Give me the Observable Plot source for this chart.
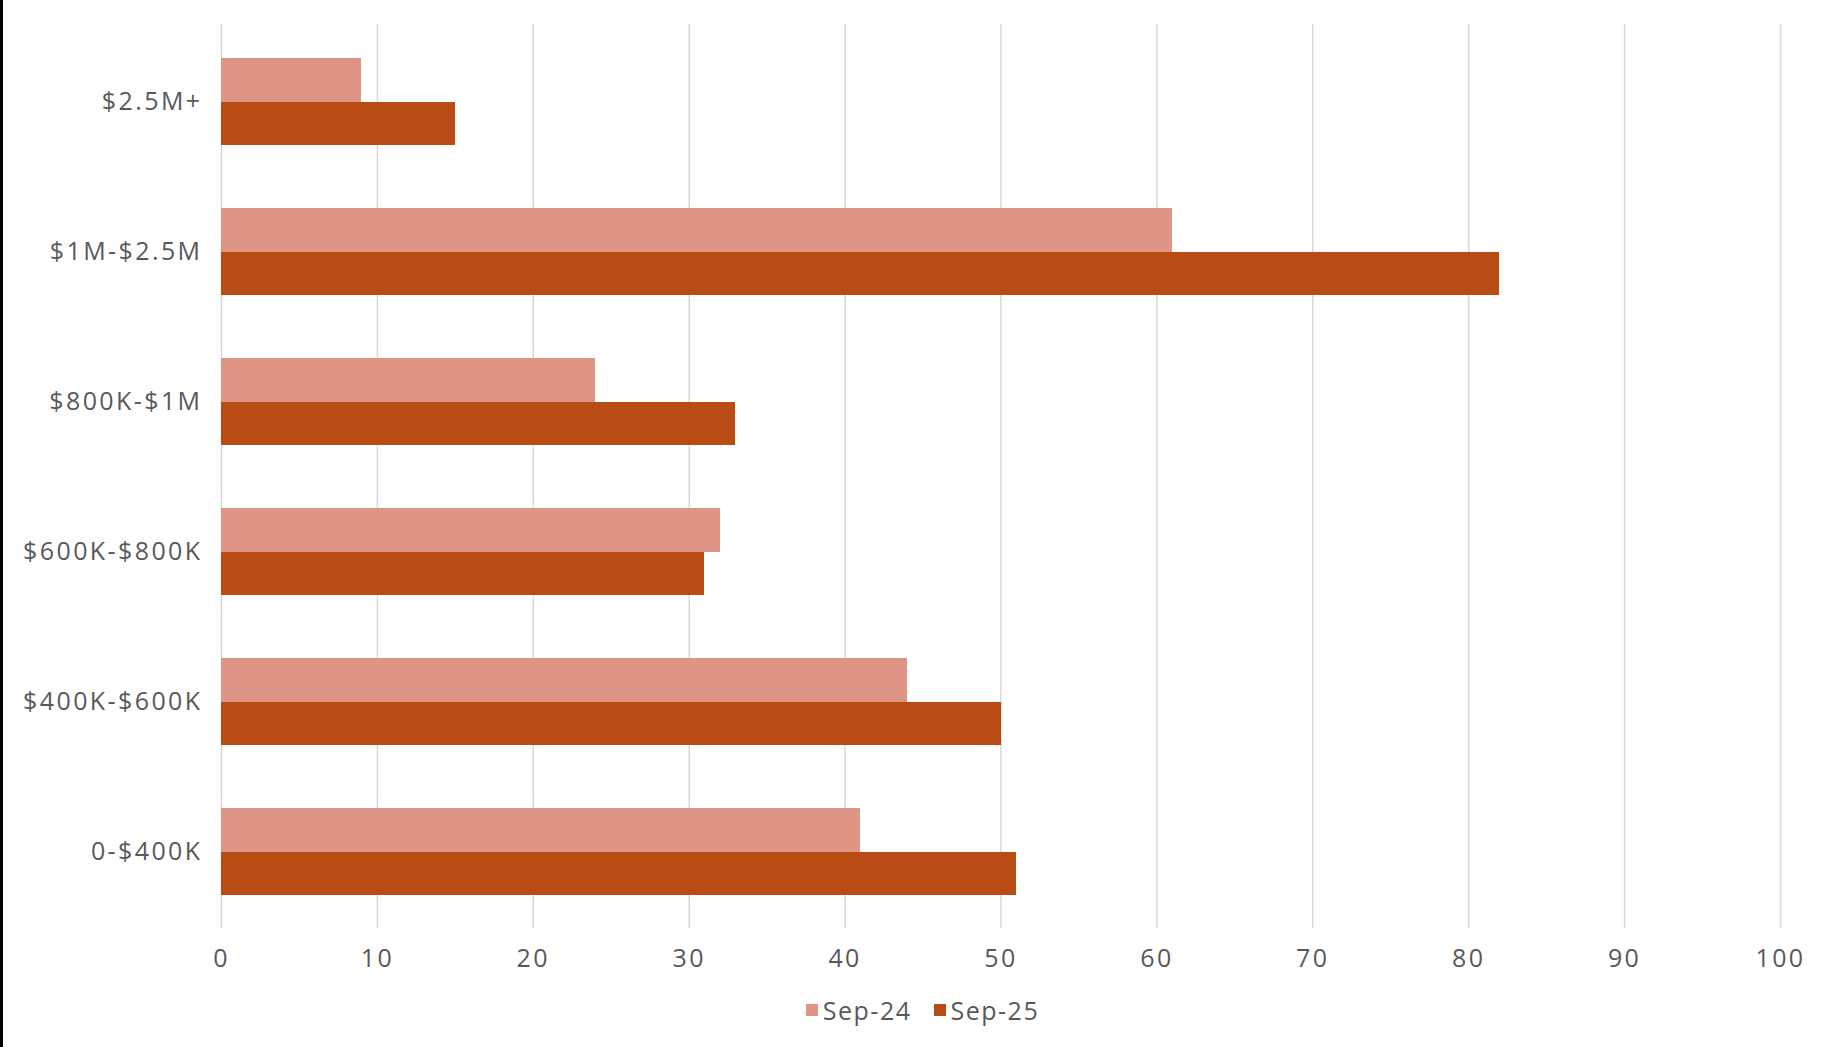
<!DOCTYPE html>
<html>
<head>
<meta charset="utf-8">
<script src="https://cdn.jsdelivr.net/npm/d3@7"></script>
<script src="https://cdn.jsdelivr.net/npm/@observablehq/plot@0.6"></script>
<style>
  body { margin: 0; background: #fff; font-family: "Open Sans", sans-serif; }
  #wrap { position: relative; width: 1821px; height: 1047px; overflow: hidden; }
  #edge { position: absolute; left: 0; top: 0; width: 3px; height: 1047px; background: #000; }
  #chart { position: absolute; left: 0; top: 0; }
  #chart svg text { letter-spacing: 2.4px; }
  #legend { position: absolute; top: 994px; left: 12px; width: 1821px; display: flex; justify-content: center; gap: 22px; font-size: 25px; letter-spacing: 1.5px; color: #595959; line-height: 32px; }
  .item { display: flex; align-items: center; gap: 5px; }
  .sw { width: 12px; height: 12px; display: inline-block; }
</style>
</head>
<body>
<div id="wrap">
  <div id="chart"></div>
  <div id="edge"></div>
  <div id="legend"></div>
</div>
<script>
const categories = ["$2.5M+", "$1M-$2.5M", "$800K-$1M", "$600K-$800K", "$400K-$600K", "0-$400K"];
const seriesNames = ["Sep-24", "Sep-25"];
const sep24 = [9, 61, 24, 32, 44, 41];
const sep25 = [15, 82, 33, 31, 50, 51];
const xTicks = [0, 10, 20, 30, 40, 50, 60, 70, 80, 90, 100];
const colors = ["#DF9585", "#B84C14"];

const rows24 = categories.map((c, i) => ({category: c, series: seriesNames[0], value: sep24[i]}));
const rows25 = categories.map((c, i) => ({category: c, series: seriesNames[1], value: sep25[i]}));

const W = 1821, H = 985, mT = 24, mB = 57, mL = 221, mR = 41;
const padInner = 0.42;
const bandwidth = ((H - mT - mB) / categories.length) * (1 - padInner);
const half = bandwidth / 2;

const chart = Plot.plot({
  width: W,
  height: H,
  marginTop: mT,
  marginBottom: mB,
  marginLeft: mL,
  marginRight: mR,
  style: {fontFamily: "'Open Sans', sans-serif", fontSize: "25px", color: "#595959", background: "transparent", overflow: "visible"},
  x: {domain: [0, 100], ticks: xTicks, tickSize: 0, tickPadding: 21, label: null},
  y: {domain: categories, paddingInner: padInner, paddingOuter: padInner / 2, label: null, tickSize: 0, tickPadding: 19},
  color: {domain: seriesNames, range: colors},
  marks: [
    Plot.gridX(xTicks, {stroke: "#d9d9d9", strokeOpacity: 1, strokeWidth: 1.5}),
    Plot.barX(rows24, {y: "category", x: "value", fill: "series", insetBottom: half - 0.5, shapeRendering: "crispEdges"}),
    Plot.barX(rows25, {y: "category", x: "value", fill: "series", insetTop: half, shapeRendering: "crispEdges"})
  ]
});
document.getElementById("chart").appendChild(chart);

const legend = document.getElementById("legend");
seriesNames.forEach((s, i) => {
  const item = document.createElement("div");
  item.className = "item";
  const sw = document.createElement("span");
  sw.className = "sw";
  sw.style.background = colors[i];
  const t = document.createElement("span");
  t.textContent = s;
  item.appendChild(sw);
  item.appendChild(t);
  legend.appendChild(item);
});
</script>
</body>
</html>
